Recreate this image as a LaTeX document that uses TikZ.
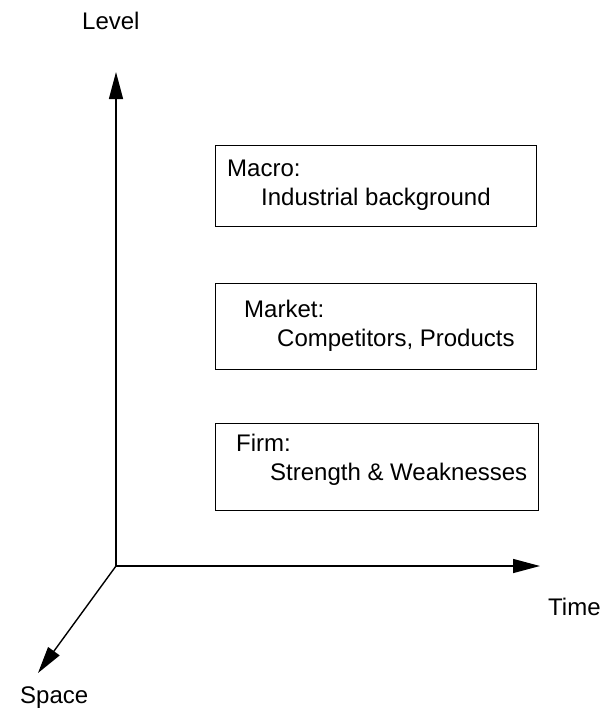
\documentclass[tikz,border=0pt]{standalone}
\usepackage{fontspec}
\setmainfont{Liberation Sans}
\usetikzlibrary{arrows.meta}
\begin{document}
\begin{tikzpicture}[x=1pt,y=-1pt,
  axis/.style={line width=1.4pt,-{Triangle[length=27pt,width=14pt]}},
  levelbox/.style={draw,line width=1.4pt,inner sep=0pt,anchor=north west},
  txt/.style={anchor=base west,inner sep=0pt,font=\fontsize{24}{29}\selectfont}]
  \useasboundingbox (0,0) rectangle (610,713);

  % axes
  \coordinate (O) at (116,566);
  \coordinate (up) at (116,72);
  \coordinate (right) at (540,566);
  \coordinate (down) at (38,673);
  \draw[axis] (O) -- (up);
  \draw[axis] (O) -- (right);
  \draw[axis] (O) -- (down);

  \node[txt] (level) at (82,29) {Level};
  \node[txt] (time) at (548,615) {Time};
  \node[txt] (space) at (20,703) {Space};

  % the three levels
  \node[levelbox,minimum width=321pt,minimum height=81pt] (macro) at (215,145) {};
  \node[txt] (macroT) at (227,176) {Macro:};
  \node[txt] (macroS) at (261,205) {Industrial background};

  \node[levelbox,minimum width=321pt,minimum height=86pt] (market) at (215,283) {};
  \node[txt] (marketT) at (244,317) {Market:};
  \node[txt] (marketS) at (277,346) {Competitors, Products};

  \node[levelbox,minimum width=323pt,minimum height=87pt] (firm) at (215,423) {};
  \node[txt] (firmT) at (236,451) {Firm:};
  \node[txt] (firmS) at (270,480) {Strength \& Weaknesses};
\end{tikzpicture}
\end{document}
